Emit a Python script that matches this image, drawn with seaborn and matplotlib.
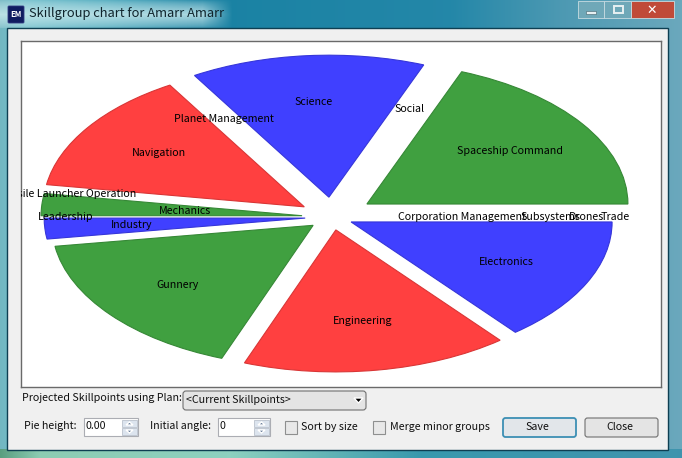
import numpy as np
import matplotlib
matplotlib.use("Agg")
import matplotlib.pyplot as plt
from matplotlib.patches import Rectangle, FancyBboxPatch, Polygon
import seaborn as sns

# ---- data ----
categories = ["Electronics", "Engineering", "Gunnery", "Industry", "Leadership", "Mechanics",
              "Missile Launcher Operation", "Navigation", "Planet Management", "Science",
              "Social", "Spaceship Command", "Subsystems", "Trade", "Drones",
              "Corporation Management"]
skillpoints = [51, 59.5, 61, 8.5, 0, 9, 0, 50, 0, 52.3, 0, 68.7, 0, 0, 0, 0]
palette_cycle = ["#4040FF", "#FF4040", "#40A040"]
title_text = "Skillgroup chart for Amarr Amarr"

# ---- layout / style ----
explode = [0.081, 0.092, 0.093, 0.103, 0, 0.115, 0, 0.128, 0, 0.14, 0, 0.162, 0, 0, 0, 0]
label_radius = [0.741, 0.741, 0.759, 0.768, 1.02, 0.565, 1.02, 0.80, 0.805, 0.813, 0.814,
                0.825, 0.835, 1.084, 0.977, 0.50]
FONT = ["Noto Sans CJK JP", "DejaVu Sans"]
FS = 7.7
W, H = 682, 458
CX, CY, RX, RY = 332, 217, 261, 142
PL, PR, PT, PB = 21, 661, 41, 387

sns.set_theme(style="white")
plt.rcParams["font.family"] = FONT
fig = plt.figure(figsize=(W / 100, H / 100), dpi=100)

# ---- window chrome ----
bg = fig.add_axes([0, 0, 1, 1], zorder=0)
bg.set_xlim(0, W); bg.set_ylim(H, 0); bg.axis("off")
xs = np.array([0, 25, 110, 200, 450, 560, 682])
cols = np.array([[.45, .72, .76], [.45, .75, .80], [.30, .66, .74], [.10, .51, .64],
                 [.14, .53, .66], [.30, .60, .70], [.42, .66, .74]])
grad = np.stack([np.interp(np.arange(W), xs, cols[:, i]) for i in range(3)], axis=1)[None, :, :]
bg.imshow(grad, extent=(0, W, H, 0), aspect="auto", zorder=0)
# bottom frame band
xb = np.array([0, 40, 230, 420, 682])
colb = np.array([[.35, .62, .50], [.55, .80, .70], [.55, .82, .75], [.22, .60, .68], [.25, .58, .68]])
gradb = np.stack([np.interp(np.arange(W), xb, colb[:, i]) for i in range(3)], axis=1)[None, :, :]
bg.imshow(gradb, extent=(0, W, H, 449), aspect="auto", zorder=0.5)
bg.set_xlim(0, W); bg.set_ylim(H, 0)
bg.add_patch(Rectangle((7, 28), 661, 422, fc="#F0F0F0", ec="#0E3F52", lw=1, zorder=1))
# title glow: soft-edged light patch behind the caption
yy, xx = np.mgrid[0:28, 0:260]
glow = np.clip((232 - xx) / 30, 0, 1) * np.clip(1 - np.abs(yy - 14) / 15, 0, 1) ** .6
rgba = np.zeros((28, 260, 4))
rgba[..., :3] = (.80, .92, .93)
rgba[..., 3] = glow * .8
bg.imshow(rgba, extent=(0, 260, 28, 0), aspect="auto", zorder=0.8)
bg.set_xlim(0, W); bg.set_ylim(H, 0)
bg.add_patch(FancyBboxPatch((9, 7), 14, 15, boxstyle="round,pad=1", fc="#101C60", ec="#303A80", lw=.6, zorder=2))
bg.text(16, 14.5, "EM", color="white", fontsize=5.5, ha="center", va="center", weight="bold", zorder=3)
bg.text(29, 14, title_text, fontsize=9.3, color="#10242C", va="center", zorder=3)
# caption buttons
bg.add_patch(Rectangle((578, 1), 26, 17, fc="#6FA8B8", ec="#C8DCE2", lw=.6, zorder=2))
bg.add_patch(Rectangle((604, 1), 27, 17, fc="#6FA8B8", ec="#C8DCE2", lw=.6, zorder=2))
bg.add_patch(Rectangle((631, 1), 43, 17, fc="#C04A38", ec="#C8DCE2", lw=.6, zorder=2))
bg.add_patch(Rectangle((586, 11), 10, 3, fc="#E8F0F2", ec="#40606A", lw=.4, zorder=3))
bg.add_patch(Rectangle((614, 6), 9, 7, fc="none", ec="#E8F0F2", lw=1.4, zorder=3))
bg.text(652, 10, "✕", color="white", fontsize=9, ha="center", va="center", weight="bold",
        family="DejaVu Sans", zorder=3)

def label(x, y, s, **kw):
    bg.text(x, y, s, fontsize=FS, color="#101010", va="center", zorder=3, **kw)

def box(x0, y0, x1, y1, fc="white", ec="#ABADB3", lw=.8, round_=0):
    if round_:
        p = FancyBboxPatch((x0 + round_, y0 + round_), x1 - x0 - 2 * round_, y1 - y0 - 2 * round_,
                           boxstyle=f"round,pad={round_}", fc=fc, ec=ec, lw=lw, zorder=2)
    else:
        p = Rectangle((x0, y0), x1 - x0, y1 - y0, fc=fc, ec=ec, lw=lw, zorder=2)
    bg.add_patch(p)

def spinner(x, y0):
    box(x, y0 + 1, x + 15, y0 + 8, fc="#DCE4EE", ec="#B0B8C4", lw=.5)
    box(x, y0 + 9, x + 15, y0 + 16, fc="#DCE4EE", ec="#B0B8C4", lw=.5)
    bg.add_patch(Polygon([[x + 4, y0 + 6], [x + 11, y0 + 6], [x + 7.5, y0 + 3]], fc="#5A7090", zorder=3))
    bg.add_patch(Polygon([[x + 4, y0 + 11], [x + 11, y0 + 11], [x + 7.5, y0 + 14]], fc="#5A7090", zorder=3))

label(22, 398, "Projected Skillpoints using Plan:")
box(183, 391, 366, 410, fc="#E4E4E4", ec="#707070", round_=3)
label(186, 400, "<Current Skillpoints>")
bg.add_patch(Polygon([[354, 398], [363, 398], [358.5, 403]], fc="black", zorder=3))

label(24, 426, "Pie height:")
box(84, 418, 138, 436)
label(86, 426, "0.00")
spinner(122, 419)
label(150, 426, "Initial angle:")
box(218, 418, 270, 436)
label(220, 426, "0")
spinner(254, 419)
box(285, 421, 297, 434, fc="#E8E8E8", ec="#8E8F8F")
label(301, 427, "Sort by size")
box(373, 421, 385, 434, fc="#E8E8E8", ec="#8E8F8F")
label(390, 427, "Merge minor groups")
box(503, 418, 576, 437, fc="#E2E6EA", ec="#3C8FB4", lw=1.3, round_=2.5)
bg.text(537.5, 427, "Save", fontsize=FS, ha="center", va="center", color="#101010", zorder=3)
box(585, 418, 658, 437, fc="#E4E4E4", ec="#707070", round_=2.5)
bg.text(620, 427, "Close", fontsize=FS, ha="center", va="center", color="#101010", zorder=3)

# ---- pie ----
ax = fig.add_axes([PL / W, 1 - PB / H, (PR - PL) / W, (PB - PT) / H], zorder=2)
colors = [palette_cycle[i % 3] for i in range(len(categories))]
colors = sns.color_palette(colors, n_colors=len(categories))
wedges, texts = ax.pie(skillpoints, explode=explode, labels=categories, colors=colors,
                       startangle=0, counterclock=False, normalize=True,
                       center=(0, 0), radius=1, frame=True,
                       textprops=dict(fontsize=FS, color="black", ha="center", va="center",
                                      family=FONT))
ax.set_aspect("auto")
ax.set_xlim((PL - CX) / RX, (PR - CX) / RX)
ax.set_ylim((CY - PB) / RY, (CY - PT) / RY)
ax.set_xticks([]); ax.set_yticks([])
for s in ax.spines.values():
    s.set_visible(True); s.set_color("#6A6A6A"); s.set_linewidth(1)
ax.set_facecolor("white")
for w, c, v in zip(wedges, colors, skillpoints):
    w.set_edgecolor(tuple(x * .85 for x in c))
    w.set_linewidth(.8 if v > 0 else 0)
for w, t, r in zip(wedges, texts, label_radius):
    a = np.deg2rad((w.theta1 + w.theta2) / 2)
    t.set_position((r * np.cos(a), r * np.sin(a)))
    t.set_ha("center"); t.set_va("center")
    t.set_clip_on(True); t.set_clip_path(ax.patch)

fig.savefig("out.png", dpi=100)
